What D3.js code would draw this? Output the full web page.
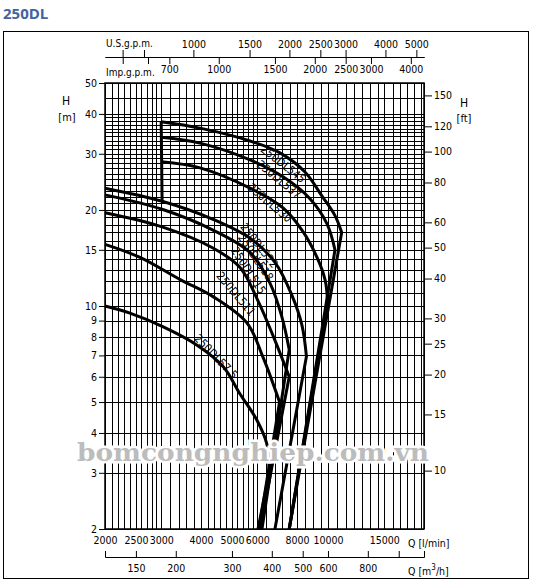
<!DOCTYPE html>
<html lang="vi">
<head>
    <meta charset="UTF-8">
    <title>250DL</title>
    <script src="https://cdnjs.cloudflare.com/ajax/libs/d3/7.8.5/d3.min.js"></script>
    <style>
        body {
            margin: 0;
            background: #fff;
        }

        svg text {
            font-family: "Liberation Sans Narrow", "DejaVu Sans Condensed", "Arial Narrow", sans-serif;
            fill: #000;
        }

        .title {
            font-family: "Open Sans", "DejaVu Sans", sans-serif !important;
            font-weight: 700;
            font-size: 15px;
            fill: #41639f !important;
        }

        .tick text {
            font-size: 10.5px;
        }

        .tick line, .domain {
            stroke: #000;
        }

        .grid line {
            stroke: #000;
            stroke-width: 1;
            shape-rendering: crispEdges;
        }

        .curve {
            fill: none;
            stroke: #000;
            stroke-width: 3;
            stroke-linejoin: miter;
        }

        .curve-label {
            font-size: 11.5px;
            text-anchor: middle;
        }

        .watermark {
            font-family: "DejaVu Serif", serif !important;
            font-weight: 700;
            font-size: 24px;
            fill: #bcbcbc !important;
            stroke: #fff;
            stroke-width: 5px;
            paint-order: stroke;
        }
    </style>
</head>
<body>
    <div id="wrapper"></div>
    <script>
        // lưu lượng Q [l/min], cột áp H [m]
        const flowTicks = [2000, 2500, 3000, 4000, 5000, 6000, 8000, 10000, 15000]
        const headTicks = [2, 3, 4, 5, 6, 7, 8, 9, 10, 15, 20, 30, 40, 50]
        const feetTicks = [10, 15, 20, 25, 30, 40, 50, 60, 80, 100, 120, 150]
        const usTicks = [600, 700, 1000, 1500, 2000, 2500, 3000, 4000, 5000]
        const usLabeled = [1000, 1500, 2000, 2500, 3000, 4000, 5000]
        const impTicks = [500, 600, 700, 1000, 1500, 2000, 2500, 3000, 4000]
        const impLabeled = [700, 1000, 1500, 2000, 2500, 3000, 4000]
        const m3hTicks = [150, 200, 300, 400, 500, 600, 800, 1000]
        const m3hLabeled = [150, 200, 300, 400, 500, 600, 800]

        const gridFlow = [
            2000, 2100, 2200, 2300, 2400, 2500, 2600, 2700, 2800, 2900, 3000,
            3200, 3400, 3600, 3800, 4000, 4200, 4400, 4600, 4800, 5000,
            5200, 5400, 5600, 5800, 6000, 6400, 6800, 7200, 7600, 8000,
            8500, 9000, 9500, 10000, 10700, 11400, 12100, 12800, 13500, 14300,
            15000, 16000, 16800, 17700, 18600, 19600, 20000
        ]
        const gridHead = [
            2, 3, 4, 5, 6, 7, 8, 9, 10, 11, 12, 13, 14, 15, 16, 17, 18, 19, 20,
            21, 22, 23, 24, 25, 26, 27, 28, 29, 30, 31, 32, 33, 34, 35, 36, 37,
            38, 39, 40, 45, 50
        ]

        const models = ['250DL545', '250DL537', '250DL530', '250DL522', '250DL518', '250DL515', '250DL511', '250DL57.5']

        // [Q, H]
        const curve545 = [[3000, 37.8], [3970, 36.1], [5700, 32.9], [7070, 30.2], [8470, 26.3], [9580, 22.1], [10520, 19.2], [11040, 17.0]]
        const curve537 = [[3000, 33.8], [3970, 32.4], [5700, 28.7], [7230, 25.4], [8780, 21.7], [9930, 18.1], [10520, 15.0]]
        const curve530 = [[3000, 28.3], [3970, 27.1], [5700, 23.4], [7230, 20.3], [8350, 17.1], [9240, 14.2], [9790, 12.1], [9970, 10.4]]
        const curve522 = [[2000, 23.4], [3020, 21.3], [4360, 18.7], [5700, 16.3], [6820, 13.7], [7710, 10.8], [8290, 8.7], [8560, 6.95]]
        const curve518 = [[2000, 22.3], [3020, 20.1], [4360, 17.3], [5700, 14.7], [6580, 11.8], [7180, 9.2], [7560, 7.3]]
        const curve515 = [[2000, 19.6], [3020, 17.7], [4360, 15.2], [5300, 13.2], [6030, 10.4], [6820, 7.8], [7560, 6.0]]
        const curve511 = [[2000, 15.6], [2575, 14.2], [3440, 12.1], [4360, 10.7], [5570, 8.85], [6260, 6.9], [7050, 5.0]]
        const curve575 = [[2000, 10.0], [2395, 9.5], [3046, 8.6], [3878, 7.55], [4697, 6.45], [5300, 5.3], [5978, 4.4], [6430, 3.7], [6540, 3.0]]
        // Q tại đáy biểu đồ (H = 2 m) của đoạn thẳng cuối mỗi đường
        const dropFlow = [7560, 7560, 7560, 6820, 6210, 6120, 6080, 6035]

        const curves = [curve545, curve537, curve530, curve522, curve518, curve515, curve511, curve575]

        async function drawPumpChart() {
            const dimensions = {
                width: 536,
                height: 587,
                plot: { left: 105, right: 424, top: 83, bottom: 529 }
            }
            const p = dimensions.plot

            const svg = d3.select('#wrapper')
                .append('svg')
                    .attr('width', dimensions.width)
                    .attr('height', dimensions.height)

            svg.append('text')
                .attr('class', 'title')
                .attr('x', 3)
                .attr('y', 19)
                .text('250DL')

            svg.append('rect')
                .attr('x', 3.5).attr('y', 31.5)
                .attr('width', 525).attr('height', 547)
                .attr('fill', 'none')
                .attr('stroke', '#000')
                .attr('stroke-width', 1)

            // thang đo
            const xScale = d3.scaleLog().domain([2000, 20000]).range([p.left, p.right])
            const yScale = d3.scaleLog().domain([2, 50]).range([p.bottom, p.top])
            const yFeet = d3.scaleLog().domain([2 / 0.3048, 50 / 0.3048]).range([p.bottom, p.top])
            const xUS = d3.scaleLog().domain([2000 / 3.78541, 20000 / 3.78541]).range([p.left, p.right])
            const xImp = d3.scaleLog().domain([2000 / 4.54609, 20000 / 4.54609]).range([p.left, p.right])
            const xM3h = d3.scaleLog().domain([2000 * 0.06, 20000 * 0.06]).range([p.left, p.right])

            // lưới
            const grid = svg.append('g').attr('class', 'grid')
            grid.selectAll('.vline')
                .data(gridFlow)
                .join('line')
                    .attr('class', 'vline')
                    .attr('x1', d => Math.round(xScale(d)) + 0.5)
                    .attr('x2', d => Math.round(xScale(d)) + 0.5)
                    .attr('y1', p.top)
                    .attr('y2', p.bottom)
            grid.selectAll('.hline')
                .data(gridHead)
                .join('line')
                    .attr('class', 'hline')
                    .attr('y1', d => Math.round(yScale(d)) + 0.5)
                    .attr('y2', d => Math.round(yScale(d)) + 0.5)
                    .attr('x1', p.left)
                    .attr('x2', p.right)

            svg.append('rect')
                .attr('x', p.left).attr('y', p.top)
                .attr('width', p.right - p.left).attr('height', p.bottom - p.top)
                .attr('fill', 'none')
                .attr('stroke', '#000')
                .attr('stroke-width', 1.5)

            // trục trái H [m]
            const leftAxis = svg.append('g')
                .attr('transform', `translate(${p.left},0)`)
                .call(d3.axisLeft(yScale).tickValues(headTicks).tickSize(6).tickSizeOuter(0).tickPadding(2).tickFormat(d3.format('d')))
            leftAxis.select('.domain').remove()

            // trục phải H [ft]
            const rightAxis = svg.append('g')
                .attr('transform', `translate(${p.right},0)`)
                .call(d3.axisRight(yFeet).tickValues(feetTicks).tickSize(8).tickSizeOuter(0).tickPadding(2).tickFormat(d3.format('d')))
            rightAxis.select('.domain').remove()

            // trục dưới Q [l/min]
            const bottomAxis = svg.append('g')
                .attr('transform', `translate(0,${p.bottom})`)
                .call(d3.axisBottom(xScale).tickValues(flowTicks).tickSize(0).tickPadding(8).tickFormat(d3.format('d')))
            bottomAxis.select('.domain').remove()

            // trục Q [m3/h]
            svg.append('g')
                .attr('transform', `translate(0,557)`)
                .call(d3.axisBottom(xM3h).tickValues(m3hTicks).tickSize(-6).tickSizeOuter(-6).tickPadding(8)
                    .tickFormat(d => m3hLabeled.includes(d) ? d : ''))

            // trục trên U.S.g.p.m. / Imp.g.p.m.
            svg.append('g')
                .attr('transform', 'translate(0,57)')
                .call(d3.axisTop(xUS).tickValues(usTicks).tickSize(7).tickSizeOuter(0).tickPadding(2)
                    .tickFormat(d => usLabeled.includes(d) ? d : ''))
            svg.append('g')
                .attr('transform', 'translate(0,57)')
                .call(d3.axisBottom(xImp).tickValues(impTicks).tickSize(7).tickSizeOuter(0).tickPadding(2)
                    .tickFormat(d => impLabeled.includes(d) ? d : ''))

            svg.append('text').attr('x', 106).attr('y', 47).style('font-size', '10px').text('U.S.g.p.m.')
            svg.append('text').attr('x', 106).attr('y', 76).style('font-size', '10px').text('Imp.g.p.m.')

            const unitFont = '11px'
            svg.append('text').attr('x', 66).attr('y', 105).attr('text-anchor', 'middle').style('font-size', '12px').text('H')
            svg.append('text').attr('x', 67).attr('y', 121).attr('text-anchor', 'middle').style('font-size', unitFont).text('[m]')
            svg.append('text').attr('x', 464).attr('y', 107).attr('text-anchor', 'middle').style('font-size', '12px').text('H')
            svg.append('text').attr('x', 464).attr('y', 122).attr('text-anchor', 'middle').style('font-size', unitFont).text('[ft]')

            svg.append('text').attr('x', 408).attr('y', 547).style('font-size', '10.5px').text('Q [l/min]')
            const m3hLabel = svg.append('text').attr('x', 408).attr('y', 575).style('font-size', '10.5px')
            m3hLabel.append('tspan').text('Q [m')
            m3hLabel.append('tspan').attr('dy', -5).style('font-size', '8px').text('3')
            m3hLabel.append('tspan').attr('dy', 5).text('/h]')

            // đường đặc tính
            const smooth = d3.line()
                .x(d => xScale(d[0]))
                .y(d => yScale(d[1]))
                .curve(d3.curveCatmullRom.alpha(0.5))
            const straight = d3.line()
                .x(d => xScale(d[0]))
                .y(d => yScale(d[1]))

            svg.append('g')
                .selectAll('path')
                .data(curves)
                .join('path')
                    .attr('class', 'curve')
                    .attr('d', (d, i) => {
                        const end = d[d.length - 1]
                        return smooth(d) + straight([end, [dropFlow[i], 2]]).replace(/^M/, 'L')
                    })

            // đường giới hạn Q = 3000 l/min của nhóm trên
            svg.append('path')
                .attr('class', 'curve')
                .attr('d', straight([curve545[0], curve522[1]]))

            // nhãn đường (nằm ngay dưới đường tương ứng)
            const labelSpots = [
                [7390, 28.6, 38], [7180, 25.6, 39], [6720, 21.6, 40],
                [6150, 15.6, 52], [6000, 14.3, 56], [5700, 13.0, 57],
                [5200, 11.0, 50], [4500, 7.0, 46]
            ]
            svg.append('g')
                .selectAll('text')
                .data(models)
                .join('text')
                    .attr('class', 'curve-label')
                    .attr('transform', (d, i) => {
                        const s = labelSpots[i]
                        return `translate(${xScale(s[0])},${yScale(s[1])}) rotate(${s[2]})`
                    })
                    .attr('dy', (d, i) => i < 3 ? '0.75em' : '0.5em')
                    .text(d => d)

            svg.append('text')
                .attr('class', 'watermark')
                .attr('x', 77)
                .attr('y', 461)
                .attr('textLength', 352)
                .attr('lengthAdjust', 'spacingAndGlyphs')
                .text('bomcongnghiep.com.vn')
        }

        drawPumpChart()
    </script>
</body>
</html>
